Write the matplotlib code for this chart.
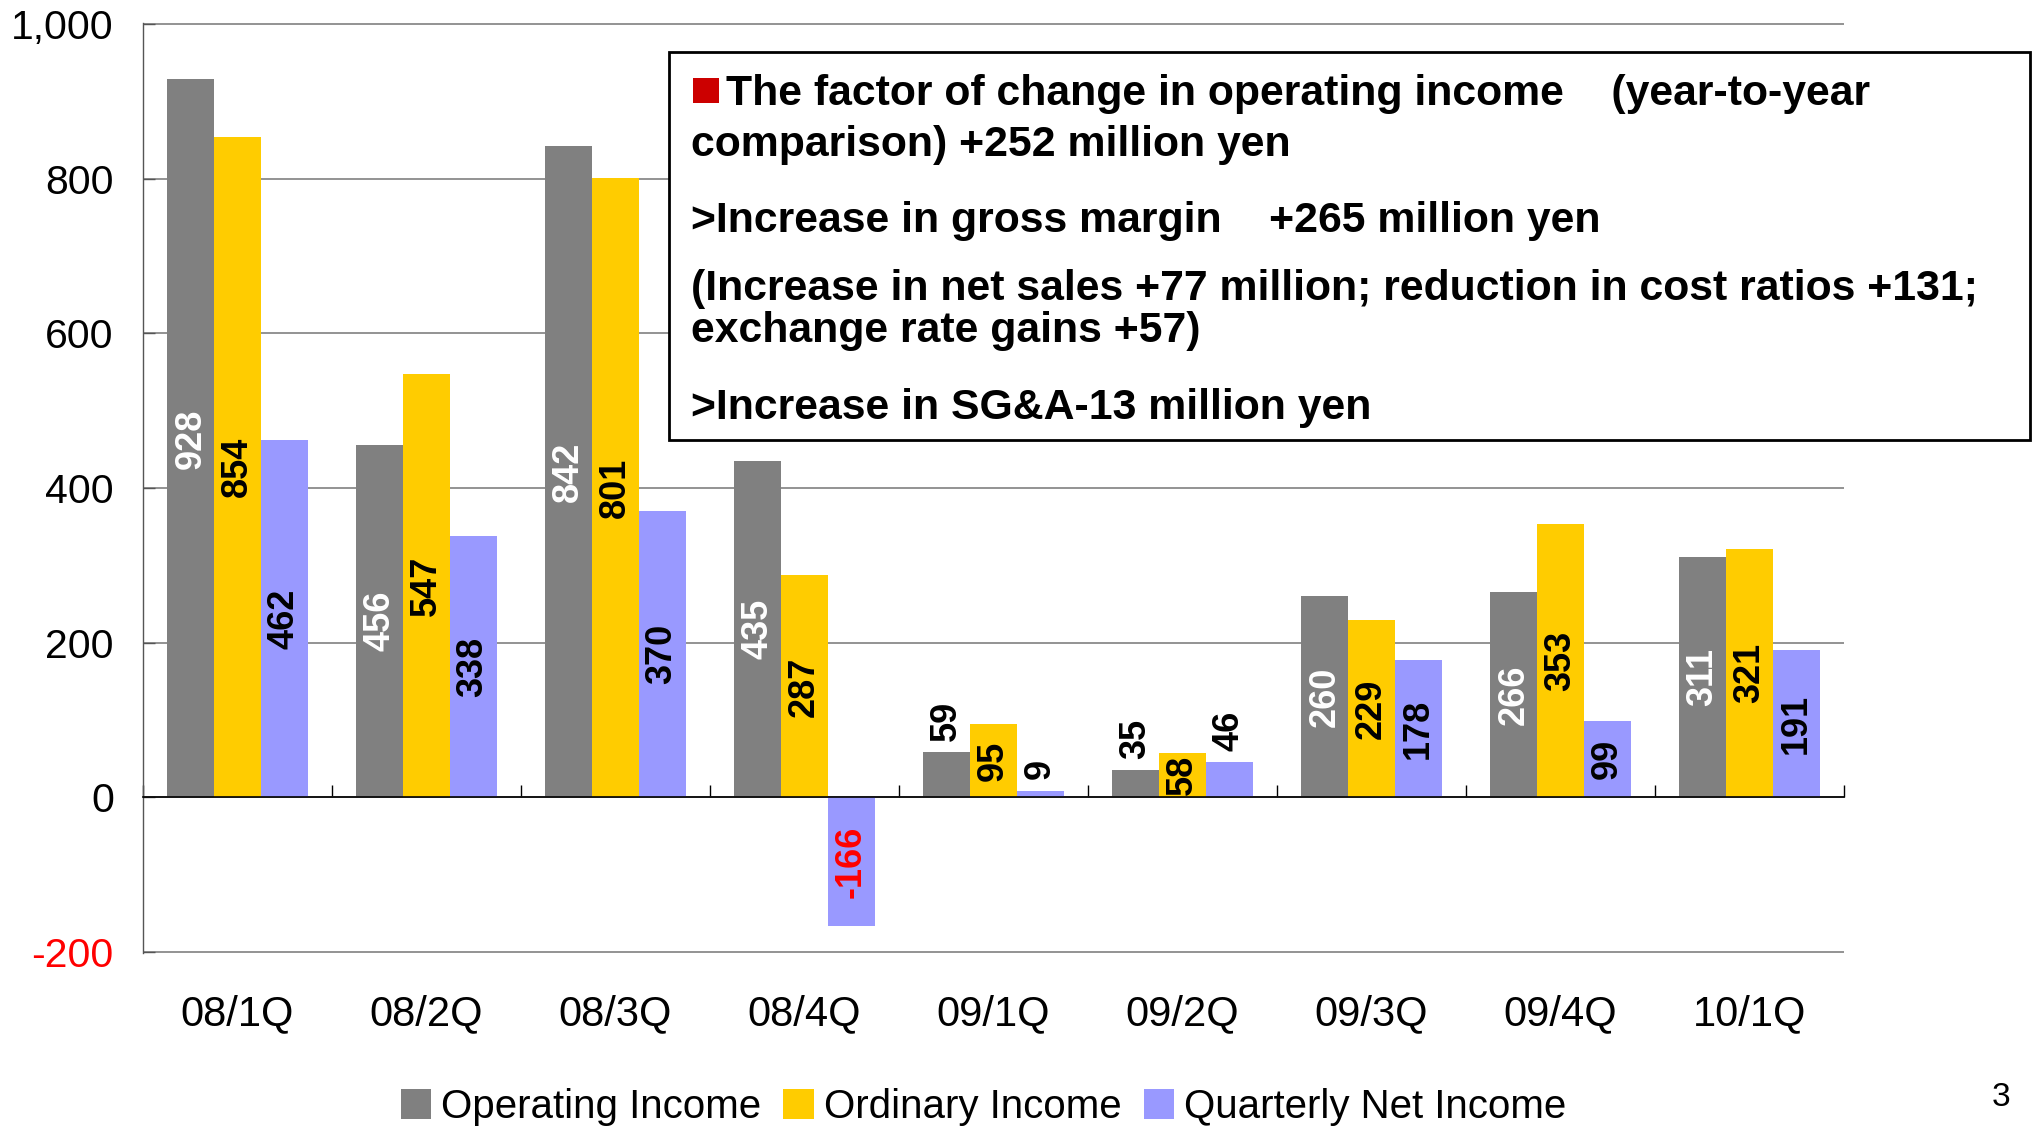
import numpy as np
import matplotlib
matplotlib.use('Agg')
import matplotlib.pyplot as plt
from matplotlib.patches import Rectangle, Patch

plt.rcParams['font.family'] = ['Liberation Sans', 'DejaVu Sans']

# data (million yen)
quarters = ['08/1Q', '08/2Q', '08/3Q', '08/4Q', '09/1Q', '09/2Q', '09/3Q', '09/4Q', '10/1Q']
operating = [928, 456, 842, 435, 59, 35, 260, 266, 311]
ordinary = [854, 547, 801, 287, 95, 58, 229, 353, 321]
net_income = [462, 338, 370, -166, 9, 46, 178, 99, 191]
series_names = ['Operating Income', 'Ordinary Income', 'Quarterly Net Income']
y_ticks = [-200, 0, 200, 400, 600, 800, 1000]
y_tick_labels = ['-200', '0', '200', '400', '600', '800', '1,000']

note_lines = [
    'The factor of change in operating income    (year-to-year',
    'comparison) +252 million yen',
    '>Increase in gross margin    +265 million yen',
    '(Increase in net sales +77 million; reduction in cost ratios +131;',
    'exchange rate gains +57)',
    '>Increase in SG&A-13 million yen',
]

colors = ['#808080', '#FFCC00', '#9999FF']
label_colors = ['white', 'black', 'black']
# labels drawn above the bar instead of inside
outside = {(4, 0), (4, 2), (5, 0), (5, 2)}

W, H = 2032, 1126
fig = plt.figure(figsize=(W / 100, H / 100), dpi=100)
ax = fig.add_axes([143 / W, 1 - 953 / H, (1844 - 143) / W, (953 - 23) / H])

x = np.arange(len(quarters))
bw = 0.247
all_series = [operating, ordinary, net_income]
for s, vals in enumerate(all_series):
    xs = x + (s - 1) * bw
    ax.bar(xs, vals, width=bw, color=colors[s], zorder=2)
    for i, v in enumerate(vals):
        col = label_colors[s]
        if v < 0:
            col = 'red'
        if (i, s) in outside:
            ax.annotate(str(v), (xs[i], v), xytext=(0, 8), textcoords='offset points',
                        rotation=90, ha='center', va='bottom', fontsize=26,
                        fontweight='bold', color='black', zorder=3)
        else:
            ax.text(xs[i], v / 2, str(v), rotation=90, ha='center', va='center',
                    fontsize=26, fontweight='bold', color=col, zorder=3)

ax.set_xlim(-0.5, len(quarters) - 0.5)
ax.set_ylim(-201, 1001)
ax.set_yticks(y_ticks)
ax.set_yticklabels(y_tick_labels)
ax.get_yticklabels()[0].set_color('red')
ax.yaxis.grid(True, color='#808080', lw=1.2, zorder=0)
ax.set_axisbelow(True)

ax.spines['top'].set_visible(False)
ax.spines['right'].set_visible(False)
ax.spines['bottom'].set_position(('data', 0))
ax.spines['bottom'].set_color('black')
ax.spines['bottom'].set_linewidth(1.2)
ax.spines['bottom'].set_zorder(4)
ax.spines['left'].set_color('#555555')
ax.spines['left'].set_linewidth(1.0)

ax.set_xticks(x)
ax.set_xticklabels(quarters)
ax.set_xticks(np.arange(-0.5, len(quarters), 1), minor=True)
ax.tick_params(axis='x', which='major', length=0, pad=142, labelsize=30)
ax.tick_params(axis='x', which='minor', direction='in', length=8.5, width=1, color='black')
ax.tick_params(axis='y', direction='in', length=8.5, width=1, color='#555555', pad=21, labelsize=29.5)

handles = [Patch(facecolor=c) for c in colors]
fig.legend(handles, series_names, loc='center', bbox_to_anchor=(0.484, 0.017), ncol=3,
           frameon=False, prop={'size': 29}, handlelength=0.75, handleheight=0.75,
           handletextpad=0.25, columnspacing=0.55)

# annotation box
fig.add_artist(Rectangle((669 / W, 1 - 440 / H), (2030 - 669) / W, (440 - 52) / H,
                         transform=fig.transFigure, fc='white', ec='black', lw=2, zorder=2))
fig.add_artist(Rectangle((693 / W, 1 - 103 / H), 26 / W, 25 / H,
                         transform=fig.transFigure, fc='#CC0000', ec='none', zorder=3))
note_pos = [(726, 105), (691, 156), (691, 232), (691, 300), (691, 342), (691, 419)]
for (px, py), line in zip(note_pos, note_lines):
    fig.text(px / W, 1 - py / H, line, va='baseline', ha='left', fontsize=30.8,
             fontweight='bold', zorder=4)

fig.text(2001 / W, 1 - 1097 / H, '3', ha='center', va='center', fontsize=24)

fig.savefig('out.png', dpi=100)
